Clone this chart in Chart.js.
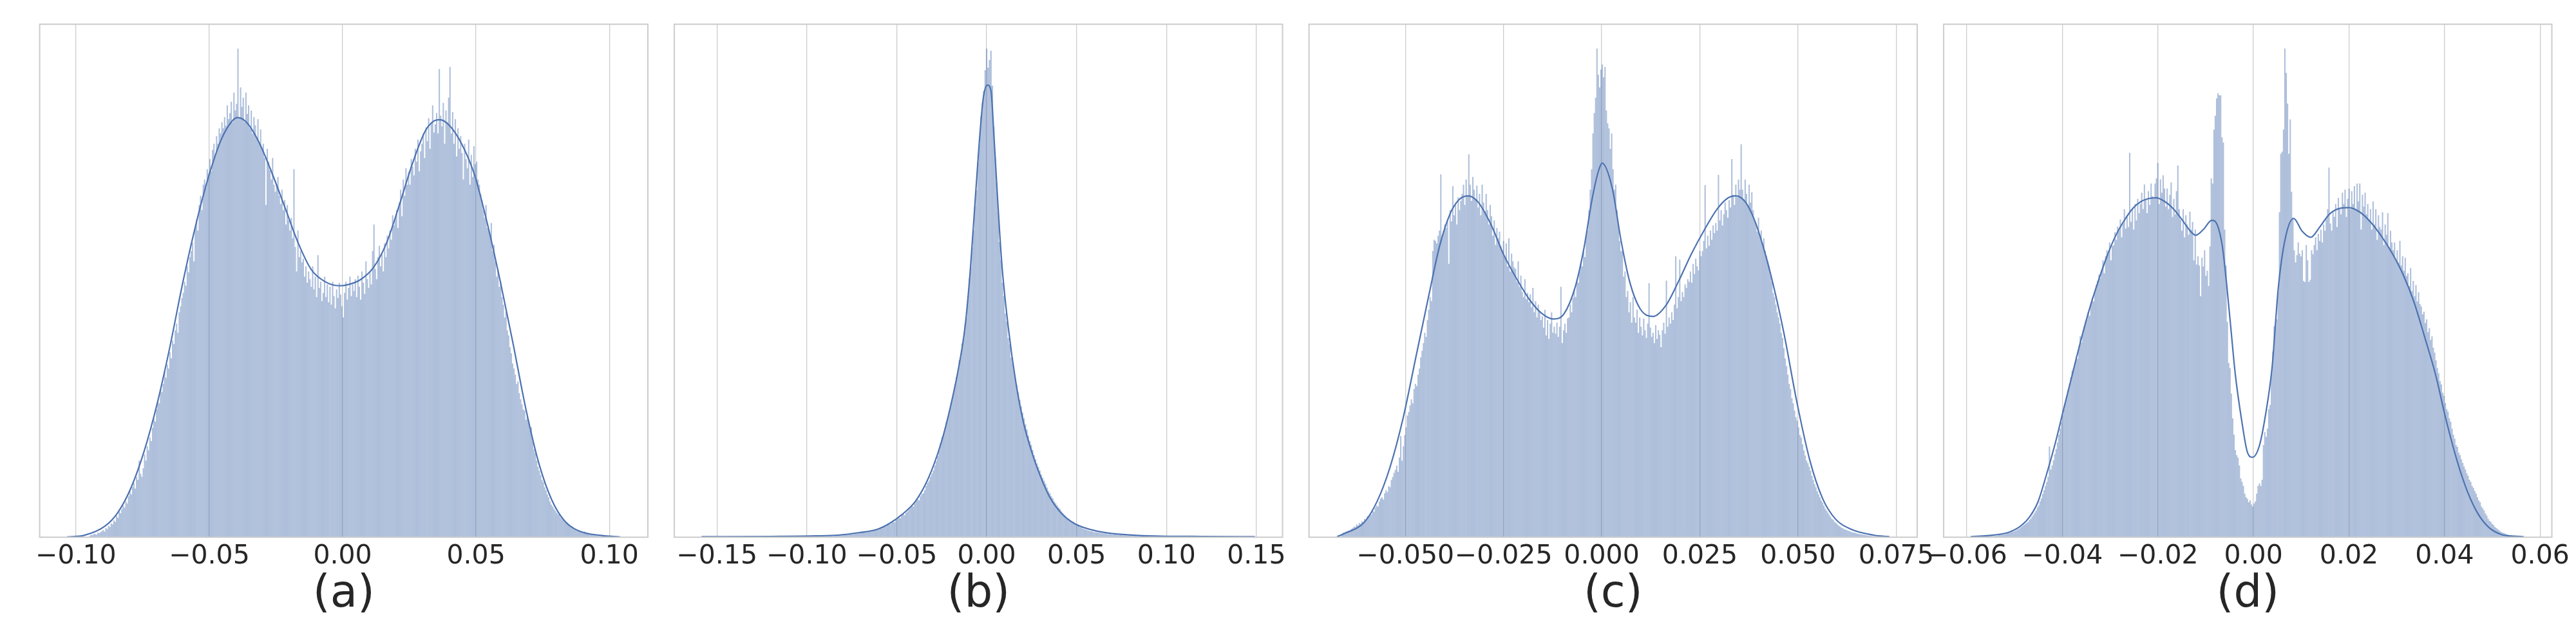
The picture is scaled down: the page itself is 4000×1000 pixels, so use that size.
<!DOCTYPE html>
<html>
<head>
<meta charset="utf-8">
<script src="https://cdn.jsdelivr.net/npm/chart.js@4.4.1/dist/chart.umd.min.js"></script>
<style>
html,body{margin:0;padding:0;background:#ffffff;overflow:hidden;width:4000px;height:1000px;}
canvas{position:absolute;top:0;}
</style>
</head>
<body>
<canvas id="pa"></canvas>
<canvas id="pb"></canvas>
<canvas id="pc"></canvas>
<canvas id="pd"></canvas>
<script>
// ---------- panel labels & tick labels ----------
const panelLabels = ['(a)', '(b)', '(c)', '(d)'];
const ticksA = [-0.10, -0.05, 0.00, 0.05, 0.10];
const ticksB = [-0.15, -0.10, -0.05, 0.00, 0.05, 0.10, 0.15];
const ticksC = [-0.050, -0.025, 0.000, 0.025, 0.050, 0.075];
const ticksD = [-0.06, -0.04, -0.02, 0.00, 0.02, 0.04, 0.06];
const tickDecimals = [2, 2, 3, 2];

// ---------- histogram bins ----------
const binStartA = -0.095, binWidthA = 0.0005;
const binStartB = -0.090, binWidthB = 0.0008;
const binStartC = -0.0663, binWidthC = 0.00034;
const binStartD = -0.0574, binWidthD = 0.00028;

// ---------- histogram heights (relative counts) ----------
const histA = [
3,5,4,7,6,5,9,8,10,12,
14,11,18,16,22,20,27,25,33,30,
42,38,50,47,55,62,58,70,66,80,
90,84,98,106,95,118,112,150,124,118,
135,162,150,178,170,195,188,214,232,226,
250,268,262,290,284,300,325,312,338,330,
362,350,385,378,405,418,400,440,452,468,
478,500,492,530,518,548,560,576,540,605,
622,600,650,668,640,690,700,684,720,712,
740,716,758,770,745,785,770,800,790,812,
800,822,805,845,818,830,852,812,870,835,
848,956,820,880,842,860,812,870,828,845,
800,835,790,822,806,780,818,770,798,760,
770,742,650,760,735,718,700,742,690,676,
690,705,668,652,680,640,660,612,650,620,
600,625,585,720,568,520,600,548,560,538,
545,510,530,498,520,505,490,530,485,510,
470,552,488,500,462,478,510,470,495,460,
490,455,500,472,448,485,468,498,475,452,
430,478,500,465,488,510,472,495,482,505,
470,512,490,465,520,498,476,540,505,488,
518,495,560,612,525,505,548,570,530,555,
520,575,548,590,565,600,582,630,610,625,
640,605,655,680,628,700,668,722,690,715,
690,740,725,708,760,735,778,716,755,770,
790,742,802,775,820,760,812,845,792,808,
830,790,916,825,804,850,770,835,812,860,
920,790,832,770,818,745,800,760,785,752,
700,770,740,722,778,690,748,705,765,730,
735,700,690,672,660,640,625,650,605,600,
590,615,560,572,540,510,524,490,500,470,
455,430,440,405,395,372,360,340,330,318,
300,305,282,270,260,250,248,230,236,224,
210,215,188,172,165,150,138,130,122,112,
108,98,92,84,78,70,64,60,56,52,
48,45,44,38,36,33,30,28,28,25,
23,20,21,17,16,15,14,13,12,11,
10,11,8,9,7,6,7,5,5,4,
4,3,3,2,2,2,1,1,1,1
];
const histB = [
2,3,2,3,3,2,3,4,3,4,
4,5,4,5,6,5,5,6,7,6,
7,8,7,9,8,10,9,9,11,10,
12,11,13,14,13,15,16,15,18,17,
20,22,21,24,26,25,28,30,29,33,
35,38,37,42,45,43,48,50,54,57,
62,60,66,70,74,72,80,84,86,92,
100,106,110,118,124,130,140,148,158,170,
184,195,200,212,225,232,245,258,268,280,
298,312,322,345,350,378,386,415,428,462,
505,525,565,598,645,676,730,765,820,846,
870,910,952,915,930,948,880,800,740,690,
635,575,540,496,470,436,420,388,376,350,
340,325,310,296,282,268,255,243,232,220,
210,198,188,180,170,160,152,144,137,130,
122,116,110,104,97,90,86,80,76,70,
66,62,58,55,50,47,44,41,38,36,
33,31,30,27,25,23,22,20,19,17,
16,15,14,13,12,12,11,10,10,9,
9,8,8,7,7,7,6,6,6,5,
5,5,5,4,4,4,4,3,4,3,
3,3,3,3,2,3,2,2,2,2,
2,2,2,1,2
];
const histC = [
7,9,8,11,10,13,12,16,18,21,
20,25,23,28,26,31,30,36,34,41,
40,46,44,52,50,58,62,60,70,76,
78,74,86,92,88,100,98,112,118,126,
132,140,128,156,198,150,178,200,215,238,
245,258,270,262,290,300,296,318,330,352,
365,380,400,392,425,445,470,462,560,582,
580,575,590,600,710,585,600,612,605,620,
535,640,618,687,630,650,612,665,640,658,
672,690,650,700,668,749,690,658,705,680,
660,688,645,672,630,690,655,638,672,640,
612,650,628,590,620,572,605,585,598,570,
560,580,548,575,530,585,520,555,540,528,
525,500,540,490,512,480,470,505,466,478,
460,475,450,488,440,462,430,455,442,425,
432,410,445,395,425,388,418,440,400,412,
398,420,392,412,490,380,405,418,400,428,
430,455,440,468,485,470,505,498,520,540,
530,560,548,590,600,640,680,720,790,830,
860,956,905,880,915,925,900,920,835,810,
800,760,790,720,680,690,640,610,580,560,
560,510,520,470,482,440,460,420,470,430,
420,445,400,430,412,395,428,405,390,418,
497,410,392,400,380,415,388,405,396,372,
405,420,398,502,412,430,418,440,425,455,
550,448,470,543,462,480,470,495,488,505,
500,520,498,535,515,545,530,522,560,550,
560,580,689,565,590,570,600,582,610,595,
615,600,709,620,640,610,632,655,640,625,
660,645,740,670,650,690,665,700,680,769,
680,660,700,672,650,690,655,675,640,620,
615,598,625,590,600,575,585,560,550,540,
530,512,500,478,470,455,440,430,418,400,
390,370,350,335,318,300,290,272,262,248,
235,228,215,200,195,182,170,160,150,145,
138,130,120,112,104,98,90,84,78,72,
68,62,56,52,48,44,40,36,34,30,
28,25,23,21,19,18,16,15,14,13,
12,11,10,9,9,8,7,7,6,6,
5,5,4,4,3,3,3,2,2,2
];
const histD = [
1,1,1,2,1,2,2,2,2,3,
2,3,3,3,4,4,4,5,5,6,
7,8,8,9,10,11,12,13,15,16,
18,20,22,24,26,28,30,34,36,40,
44,48,52,58,62,70,76,84,92,100,
108,118,177,132,140,150,162,172,185,200,
212,225,238,250,262,276,288,300,312,325,
330,340,352,348,370,392,380,398,410,420,
425,440,432,455,468,460,480,492,500,512,
505,520,540,515,548,560,552,575,540,568,
570,595,580,606,598,620,585,612,640,602,
628,605,750,615,640,600,650,618,660,632,
650,672,640,688,660,632,675,648,690,665,
660,690,700,730,650,698,672,706,680,645,
680,640,668,692,625,660,630,675,725,640,
620,598,640,585,628,610,590,635,600,615,
540,600,532,548,530,470,545,528,560,510,
520,490,567,700,690,795,822,856,866,862,
862,780,770,600,530,420,340,330,280,232,
200,170,160,155,140,115,108,100,85,78,
75,68,72,64,60,66,70,85,100,105,
100,112,180,205,196,212,250,258,320,362,
412,410,425,478,634,748,752,795,953,906,
846,748,815,674,620,560,536,550,575,553,
548,560,500,498,570,540,498,502,560,552,
570,585,560,592,578,600,575,610,598,620,
640,721,612,598,635,625,650,605,662,640,
630,672,650,678,625,660,680,640,675,650,
685,640,690,655,690,600,668,645,672,630,
650,620,640,600,655,610,640,580,628,605,
600,634,570,610,590,632,565,598,575,560,
575,540,560,536,578,530,548,520,545,510,
515,490,525,480,500,470,492,460,478,455,
450,435,440,418,425,400,408,385,392,370,
360,345,330,320,305,298,282,276,262,250,
245,232,225,212,200,192,180,176,165,160,
152,145,138,132,125,120,112,108,100,96,
90,85,78,72,68,60,56,52,46,42,
36,32,30,26,24,20,18,16,14,12,
10,9,8,7,6,5,4,4,3,3
];

// ---------- KDE curves ----------
const kdeAx = [-0.1033,-0.097,-0.089,-0.0842,-0.0794,-0.0745,-0.0697,-0.0649,-0.0601,-0.0552,-0.0504,-0.0456,-0.0415,-0.0393,-0.0359,-0.0311,-0.0263,-0.0214,-0.0166,-0.0118,-0.0069,-0.0013,0.0019,0.0067,0.0116,0.0164,0.0212,0.0261,0.0309,0.0341,0.0364,0.0398,0.0446,0.0494,0.0542,0.0591,0.0639,0.0687,0.0736,0.0784,0.0832,0.0888,0.0969,0.1041];
const kdeAy = [0.5,3.5,22,49,96,167,258,369,494,608,703,777,814,821,811,770,710,642,575,524,501,492,494,504,528,575,649,730,794,814,817,807,770,710,615,501,379,251,144,73,32,12,3.5,0.5];
const kdeBx = [-0.1585,-0.1200,-0.0947,-0.0828,-0.0708,-0.0612,-0.0540,-0.0468,-0.0396,-0.0324,-0.0252,-0.0204,-0.0156,-0.0120,-0.0091,-0.0067,-0.0043,-0.0019,0.0005,0.0024,0.0041,0.0060,0.0084,0.0120,0.0161,0.0204,0.0252,0.0300,0.0348,0.0420,0.0492,0.0612,0.0732,0.0971,0.1200,0.1492];
const kdeBy = [1,1.5,2.5,4,9,15,27,45,70,115,185,250,330,410,520,640,760,855,881,870,780,665,535,410,305,225,165,118,80,45,26,12,6,2,1.5,1];
const kdeCx = [-0.0674,-0.0659,-0.0604,-0.0572,-0.0539,-0.0506,-0.0473,-0.0440,-0.0413,-0.0386,-0.0364,-0.0341,-0.0315,-0.0282,-0.0249,-0.0216,-0.0183,-0.0151,-0.0123,-0.0096,-0.0068,-0.0046,-0.0024,-0.0008,0.0001,0.0027,0.0049,0.0071,0.0098,0.0131,0.0164,0.0196,0.0229,0.0262,0.0295,0.0322,0.0341,0.0366,0.0388,0.0409,0.0437,0.0464,0.0497,0.0530,0.0562,0.0595,0.0634,0.0693,0.0733];
const kdeCy = [1,6,30,70,137,232,353,474,569,633,660,668,656,612,552,505,464,437,427,437,488,562,663,717,732,683,582,501,447,432,454,501,555,602,643,664,668,656,623,575,494,400,265,151,77,36,16,4,1];
const kdeDx = [-0.0592,-0.0559,-0.0514,-0.0487,-0.0469,-0.0451,-0.0433,-0.0415,-0.0397,-0.0379,-0.0361,-0.0343,-0.0325,-0.0307,-0.0289,-0.0271,-0.0253,-0.0235,-0.0217,-0.0204,-0.0186,-0.0168,-0.0150,-0.0132,-0.0121,-0.0105,-0.0087,-0.0076,-0.0065,-0.0056,-0.0047,-0.0038,-0.0024,-0.0013,-0.0002,0.0012,0.0025,0.0039,0.0052,0.0066,0.0084,0.0102,0.0120,0.0138,0.0160,0.0183,0.0200,0.0223,0.0246,0.0268,0.0291,0.0313,0.0336,0.0358,0.0381,0.0403,0.0426,0.0448,0.0470,0.0493,0.0520,0.0547,0.0566];
const kdeDy = [1,3,9,22,39,69,123,183,251,318,385,446,499,547,587,617,641,655,661,662,655,641,620,597,589,600,618,610,567,493,405,318,224,167,156,177,237,331,486,580,622,597,585,604,631,642,643,634,614,587,553,513,459,392,318,230,150,89,46,19,5,2,1];

// ---------- axis ranges ----------
const xRanges = [[-0.11359, 0.11444], [-0.17367, 0.16454], [-0.07454, 0.08036], [-0.06485, 0.06247]];

// ---------- layout ----------
const FRAME_W = 944.4;
const frameLefts = [61.6, 1047.1, 2032.6, 3018.1];
const FRAME_TOP = 37.6, FRAME_BOTTOM = 834.2, CANVAS_H = 1000, SIDE = 60, CANVAS_W = 1066;

Chart.defaults.font.family = 'DejaVu Sans';
Chart.defaults.color = '#262626';

const framePlugin = {
  id: 'frame',
  afterDatasetsDraw(chart) {
    const a = chart.chartArea, ctx = chart.ctx;
    ctx.save();
    ctx.strokeStyle = '#cccccc';
    ctx.lineWidth = 2;
    ctx.strokeRect(a.left, a.top, a.right - a.left, a.bottom - a.top);
    ctx.restore();
  }
};

function fmt(v, d) {
  if (Math.abs(v) < 1e-12) v = 0;
  return (v < 0 ? '\u2212' : '') + Math.abs(v).toFixed(d);
}

const panels = [
  {id: 'pa', hist: histA, start: binStartA, width: binWidthA, kx: kdeAx, ky: kdeAy, ticks: ticksA},
  {id: 'pb', hist: histB, start: binStartB, width: binWidthB, kx: kdeBx, ky: kdeBy, ticks: ticksB},
  {id: 'pc', hist: histC, start: binStartC, width: binWidthC, kx: kdeCx, ky: kdeCy, ticks: ticksC},
  {id: 'pd', hist: histD, start: binStartD, width: binWidthD, kx: kdeDx, ky: kdeDy, ticks: ticksD}
];

panels.forEach((p, i) => {
  const canvas = document.getElementById(p.id);
  const cLeft = Math.floor(frameLefts[i] - SIDE);
  const padL = frameLefts[i] - cLeft;
  const padR = CANVAS_W - padL - FRAME_W;
  canvas.width = CANVAS_W; canvas.height = CANVAS_H;
  canvas.style.width = CANVAS_W + 'px'; canvas.style.height = CANVAS_H + 'px';
  canvas.style.left = cLeft + 'px';

  const histPts = p.hist.map((v, k) => ({x: p.start + (k + 0.5) * p.width, y: v}));
  const kdePts = p.kx.map((x, k) => ({x: x, y: p.ky[k]}));
  const yMax = 1.05 * Math.max(Math.max(...p.hist), Math.max(...p.ky));

  new Chart(canvas, {
    type: 'bar',
    data: {
      datasets: [
        {type: 'line', data: kdePts, borderColor: '#4c72b0', borderWidth: 2.2, pointRadius: 0,
         fill: false, cubicInterpolationMode: 'monotone', order: 0},
        {type: 'bar', data: histPts, backgroundColor: 'rgba(76,114,176,0.45)', borderWidth: 0,
         inflateAmount: 0, barPercentage: 1.0, categoryPercentage: 1.0, order: 1}
      ]
    },
    options: {
      responsive: false, animation: false, devicePixelRatio: 1, events: [],
      layout: {padding: {left: padL, right: padR, top: FRAME_TOP, bottom: 0}},
      plugins: {legend: {display: false}, tooltip: {enabled: false}},
      scales: {
        x: {
          type: 'linear', position: 'bottom', min: xRanges[i][0], max: xRanges[i][1], offset: false,
          grid: {color: '#cccccc', lineWidth: 1.3, drawTicks: false, offset: false},
          border: {display: false},
          ticks: {font: {size: 41}, color: '#262626', padding: 6, autoSkip: false,
                  maxRotation: 0, minRotation: 0,
                  callback: (v) => fmt(v, tickDecimals[i])},
          afterBuildTicks: (s) => { s.ticks = p.ticks.map(v => ({value: v})); },
          afterFit: (s) => { s.height = CANVAS_H - FRAME_BOTTOM; },
          title: {display: true, text: panelLabels[i], font: {size: 69}, color: '#262626',
                  padding: {top: 0, bottom: 34.6}}
        },
        y: {display: false, min: 0, max: yMax}
      }
    },
    plugins: [framePlugin]
  });
});
</script>
</body>
</html>
